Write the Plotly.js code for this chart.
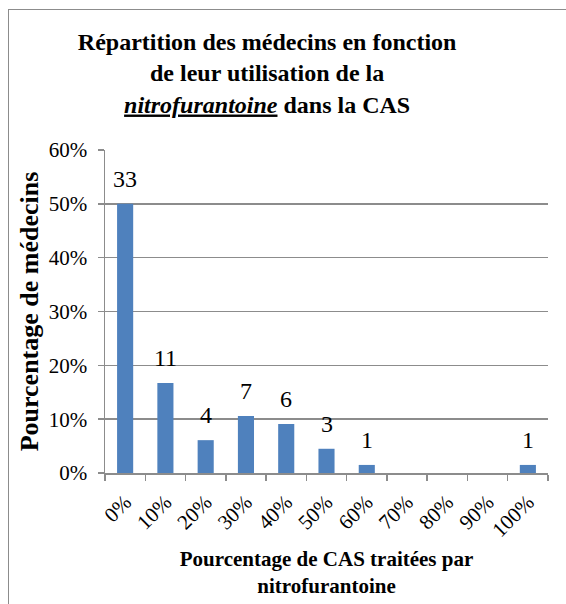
<!DOCTYPE html>
<html>
<head>
<meta charset="utf-8">
<script src="https://cdn.plot.ly/plotly-3.0.1.min.js"></script>
<style>
  html, body { margin: 0; padding: 0; background: #ffffff; }
  #frame { position: absolute; left: 8px; top: 9px; width: 570px; height: 610px;
           border-left: 1.5px solid #8c8c8c; border-top: 1.5px solid #8c8c8c; }
  #chart { position: absolute; left: 0; top: 0; width: 566px; height: 604px; }
</style>
</head>
<body>
<div id="frame"></div>
<div id="chart"></div>
<script>
// Categories: share of CAS treated with nitrofurantoine
const categories = ['0%', '10%', '20%', '30%', '40%', '50%', '60%', '70%', '80%', '90%', '100%'];
// Percentage of physicians
const pctValues = [50, 16.7, 6.1, 10.6, 9.1, 4.5, 1.5, 0, 0, 0, 1.5];
// Number of physicians (data labels)
const counts = [33, 11, 4, 7, 6, 3, 1, 0, 0, 0, 1];
const yTickVals = [0, 10, 20, 30, 40, 50, 60];

const serif = 'Liberation Serif, Times New Roman, serif';
const grey = '#8c8c8c';

const trace = {
  type: 'bar',
  x: categories,
  y: pctValues,
  marker: { color: '#4f81bd', line: { width: 0 } },
  hoverinfo: 'x+y',
  showlegend: false
};

const annotations = [];
categories.forEach(function (c, i) {
  if (counts[i] > 0) {
    annotations.push({
      x: c, y: pctValues[i], xref: 'x', yref: 'y',
      text: String(counts[i]), showarrow: false,
      yanchor: 'bottom', yshift: 10,
      font: { family: serif, size: 24, color: '#000000' }
    });
  }
});

const layout = {
  width: 566, height: 604,
  paper_bgcolor: 'rgba(0,0,0,0)',
  plot_bgcolor: 'rgba(0,0,0,0)',
  margin: { l: 105, r: 18, t: 150, b: 131 },
  bargap: 0.6,
  font: { family: serif, color: '#000000' },
  title: {
    text: '<b>Répartition des médecins en fonction<br>de leur utilisation de la<br><i><u>nitrofurantoine</u></i> dans la CAS</b>',
    font: { family: serif, size: 24, color: '#000000' },
    x: 0.472, xref: 'container', xanchor: 'center',
    y: 0.917, yref: 'container', yanchor: 'top'
  },
  xaxis: {
    type: 'category',
    categoryorder: 'array', categoryarray: categories,
    tickson: 'boundaries',
    ticks: 'outside', ticklen: 6, tickcolor: grey, tickwidth: 1.5,
    ticklabelstandoff: 7,
    showline: true, linecolor: grey, linewidth: 1.5,
    showgrid: false,
    tickangle: -45,
    tickfont: { family: serif, size: 21, color: '#000000' },
    title: {
      text: '<b>Pourcentage de CAS traitées par<br>nitrofurantoine</b>',
      font: { family: serif, size: 21, color: '#000000' },
      standoff: 10
    },
    fixedrange: true
  },
  yaxis: {
    range: [0, 60],
    tickvals: yTickVals,
    ticktext: yTickVals.map(function (v) { return v + '%'; }),
    ticks: 'outside', ticklen: 6, tickcolor: grey, tickwidth: 1.5,
    ticklabelstandoff: 6,
    showline: true, linecolor: grey, linewidth: 1.5,
    showgrid: true, gridcolor: grey, gridwidth: 1.5,
    zeroline: false,
    tickfont: { family: serif, size: 21, color: '#000000' },
    title: {
      text: '<b>Pourcentage de médecins</b>',
      font: { family: serif, size: 26, color: '#000000' },
      standoff: 2
    },
    fixedrange: true
  },
  annotations: annotations
};

Plotly.newPlot('chart', [trace], layout, { displayModeBar: false, staticPlot: true });
</script>
</body>
</html>
